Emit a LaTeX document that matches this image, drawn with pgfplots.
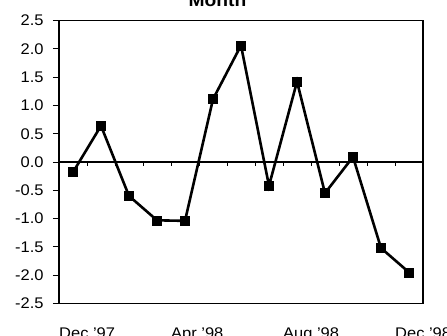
\documentclass[border=0pt]{standalone}
\usepackage{pgfplots}
\pgfplotsset{compat=1.18}
\usepackage{fontspec}
\setmainfont[FakeStretch=1.07]{Liberation Sans}
\begin{document}
\begin{tikzpicture}[x=1pt,y=1pt]
\useasboundingbox (0,0) rectangle (447,335);
\begin{axis}[
  at={(59pt,31.5pt)}, anchor=south west,
  scale only axis, width=364pt, height=283pt,
  xmin=-0.5, xmax=12.5, ymin=-2.5, ymax=2.5,
  axis line style={line width=1.3pt},
  xtick={-0.5,3.5,7.5,11.5},
  xticklabels={Dec '97,Apr '98,Aug '98,Dec '98},
  x tick style={draw=none},
  xticklabel style={anchor=base west, inner sep=0pt, yshift=-29pt, text depth=0pt},
  ytick={-2.5,-2,...,2.5},
  yticklabel={\pgfmathprintnumber{\tick}},
  y tick style={line width=1pt, black},
  tick align=outside, major tick length=6pt,
  ytick pos=left,
  yticklabel style={anchor=east, inner sep=0pt, xshift=-9.3pt},
  /pgf/number format/fixed, /pgf/number format/fixed zerofill,
  /pgf/number format/precision=1,
  /pgf/number format/assume math mode=true,
  tick label style={font=\fontsize{15.4}{16}\selectfont},
  clip=false,
]
\draw[line width=1.3pt] (axis cs:-0.5,0) -- (axis cs:12.5,0);
\pgfplotsinvokeforeach{0.5,1.5,...,11.5}{
  \draw[line width=1pt] (axis cs:#1,0) -- ++(0pt,-4pt);
}
\addplot[black, line width=2.6pt, mark=square*, mark size=4.5pt,
  mark options={solid, line width=0.5pt}] coordinates {
(0,-0.18) (1,0.64) (2,-0.60) (3,-1.03) (4,-1.04) (5,1.11) (6,2.06)
(7,-0.42) (8,1.42) (9,-0.55) (10,0.09) (11,-1.52) (12,-1.95)
};
\end{axis}
\node[anchor=base, inner sep=0pt, font=\fontsize{18}{18}\selectfont\bfseries] at (217.5,328.3) {Month};
\end{tikzpicture}
\end{document}
